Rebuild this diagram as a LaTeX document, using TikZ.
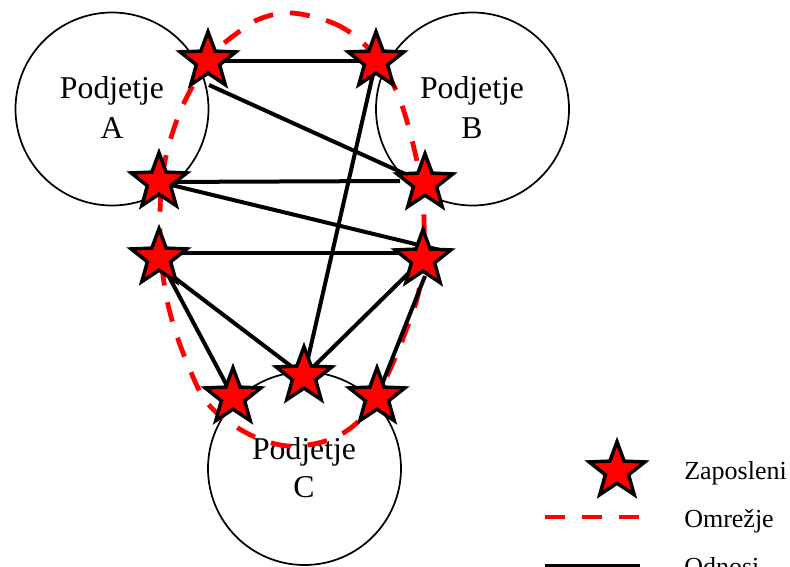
\documentclass[tikz,border=0pt]{standalone}
\usepackage{fontspec}
\setmainfont{Liberation Serif}
\usetikzlibrary{shapes.geometric}
\begin{document}
\begin{tikzpicture}[x=0.75pt,y=-0.75pt,
  comp/.style={draw=black,line width=1.3pt,circle,minimum size=144.75pt,inner sep=0pt},
  lbl/.style={font=\fontsize{23.8}{29}\selectfont,inner sep=0pt,anchor=base},
  leg/.style={font=\fontsize{19.5}{23}\selectfont,inner sep=0pt,anchor=base west},
  emp/.style={star,star points=5,star point ratio=2.4,draw=black,fill=red,line width=2.6pt,minimum size=44pt,inner sep=0pt},
  rel/.style={line width=3pt,black},
  net/.style={red,line width=3.6pt,dash pattern=on 15pt off 12.75pt}]
\useasboundingbox (0,0) rectangle (790,567);
% companies
\node[comp] (ca) at (112,109) {};
\node[comp] (cb) at (472.5,109) {};
\node[comp] (cc) at (304.5,468.5) {};
\node[lbl] (la1) at (112,99) {Podjetje};
\node[lbl] (la2) at (112,138) {A};
\node[lbl] (lb1) at (472,99) {Podjetje};
\node[lbl] (lb2) at (472,138) {B};
\node[lbl] (lc1) at (304,459) {Podjetje};
\node[lbl] (lc2) at (304,497) {C};
% network
\draw[net] plot[smooth cycle,tension=0.6] coordinates {
 (292,13) (333,23) (362,42) (385,70) (400,100) (412,140) (421,183) (424,220)
 (423,259) (418,295) (408,325) (392,365) (370,408) (340,435) (300,446)
 (265,441) (230,423) (205,400) (188,365) (175,330) (166,295) (161,255)
 (160,215) (162,180) (168,148) (180,112) (195,82) (215,52) (240,31) (262,18)};
% employees positions
\coordinate (c1) at (208,61);
\coordinate (c2) at (376,61);
\coordinate (c3) at (159,182);
\coordinate (c4) at (425,183);
\coordinate (c5) at (159,258);
\coordinate (c6) at (423,259);
\coordinate (c7) at (304,376);
\coordinate (c8) at (233,397);
\coordinate (c9) at (377,397);
% relations
\coordinate (p1) at (209,85);
\coordinate (p2) at (400,181);
\coordinate (p3) at (448,252);
\coordinate (p4) at (137,253);
\coordinate (p5) at (447,253);
\coordinate (p6) at (138,250);
\coordinate (p7) at (425,276);
\draw[rel] (c1) -- (c2);
\draw[rel] (p1) -- (c4);
\draw[rel] (c2) -- (c7);
\draw[rel] (c3) -- (p2);
\draw[rel] (c3) -- (p3);
\draw[rel] (p4) -- (p5);
\draw[rel] (p6) -- (c7);
\draw[rel] (c5) -- (c8);
\draw[rel] (c6) -- (c7);
\draw[rel] (p7) -- (c9);
% stars
\node[emp] (s1) at (c1) {};
\node[emp] (s2) at (c2) {};
\node[emp] (s3) at (c3) {};
\node[emp] (s4) at (c4) {};
\node[emp] (s5) at (c5) {};
\node[emp] (s6) at (c6) {};
\node[emp] (s7) at (c7) {};
\node[emp] (s8) at (c8) {};
\node[emp] (s9) at (c9) {};
% legend
\node[emp] (ls) at (617,471) {};
\node[leg] (lt1) at (684,479) {Zaposleni};
\coordinate (ld1) at (545,517);
\coordinate (ld2) at (640,517);
\draw[net] (ld1) -- (ld2);
\node[leg] (lt2) at (684,527) {Omrežje};
\coordinate (lr1) at (545,566);
\coordinate (lr2) at (640,566);
\draw[rel,line width=3.5pt] (lr1) -- (lr2);
\node[leg] (lt3) at (684,575) {Odnosi};
\end{tikzpicture}
\end{document}
